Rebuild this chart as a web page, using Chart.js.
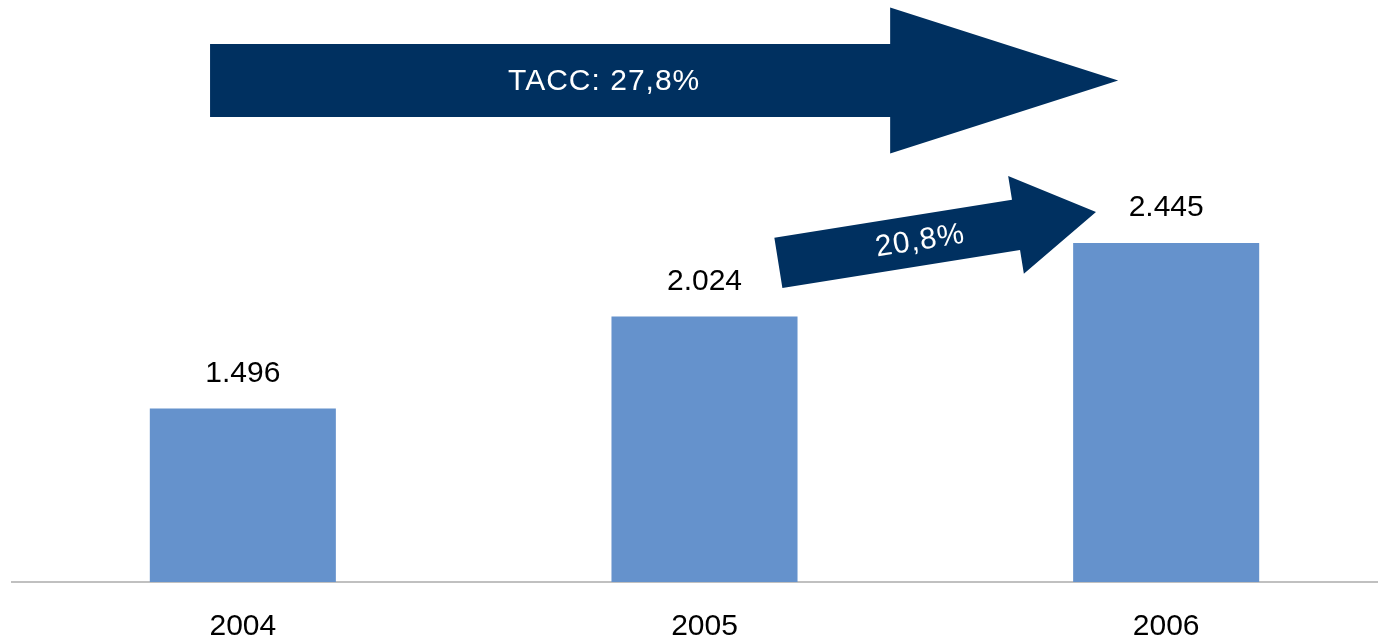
<!DOCTYPE html>
<html>
<head>
<meta charset="utf-8">
<script src="https://cdn.jsdelivr.net/npm/chart.js@4"></script>
<style>
  html, body { margin: 0; padding: 0; background: #fff; overflow: hidden; }
  #wrap { width: 1397px; height: 672px; position: relative; }
</style>
</head>
<body>
<div id="wrap"><canvas id="chart"></canvas></div>
<script>
// Data
const years = ['2004', '2005', '2006'];
const values = [1496, 2024, 2445];
const growthTotal = 'TACC: 27,8%';
const growthLast = '20,8%';

const barColor = '#6592CC';
const arrowColor = '#003060';
const textFont = '30px "Liberation Sans", Arial, sans-serif';

// Arrow annotations, placed in scale units (category index, value)
const arrows = [
  { from: { x: -0.071, y: 3378 }, to: { x: 1.896, y: 3378 }, shaft: 36.5, head: 73, headLen: 228,
    text: growthTotal, textAt: 0.434 },
  { from: { x: 1.160, y: 2331 }, to: { x: 1.848, y: 2623 }, shaft: 25.4, head: 49.6, headLen: 81,
    text: growthLast, textAt: 0.446 }
];

// Thousands separator with a dot
function fmt(v) {
  return v.toString().replace(/\B(?=(\d{3})+(?!\d))/g, '.');
}

// Draw arrows and value labels
const overlayPlugin = {
  id: 'overlay',
  afterDatasetsDraw(chart) {
    const ctx = chart.ctx;
    const xs = chart.scales.x;
    const ys = chart.scales.y;

    arrows.forEach(a => {
      const x0 = xs.getPixelForValue(a.from.x), y0 = ys.getPixelForValue(a.from.y);
      const x1 = xs.getPixelForValue(a.to.x), y1 = ys.getPixelForValue(a.to.y);
      const len = Math.hypot(x1 - x0, y1 - y0);
      const ang = Math.atan2(y1 - y0, x1 - x0);
      ctx.save();
      ctx.translate(x0, y0);
      ctx.rotate(ang);
      ctx.fillStyle = arrowColor;
      ctx.beginPath();
      ctx.moveTo(0, -a.shaft);
      ctx.lineTo(len - a.headLen, -a.shaft);
      ctx.lineTo(len - a.headLen, -a.head);
      ctx.lineTo(len, 0);
      ctx.lineTo(len - a.headLen, a.head);
      ctx.lineTo(len - a.headLen, a.shaft);
      ctx.lineTo(0, a.shaft);
      ctx.closePath();
      ctx.fill();
      ctx.fillStyle = '#ffffff';
      ctx.font = textFont;
      ctx.letterSpacing = '1px';
      ctx.textAlign = 'center';
      ctx.textBaseline = 'middle';
      ctx.fillText(a.text, len * a.textAt, 1);
      ctx.restore();
    });

    // Value labels above bars
    const meta = chart.getDatasetMeta(0);
    ctx.save();
    ctx.fillStyle = '#000000';
    ctx.font = '30px "Liberation Sans", Arial, sans-serif';
    ctx.textAlign = 'center';
    ctx.textBaseline = 'middle';
    meta.data.forEach((bar, i) => {
      ctx.fillText(fmt(values[i]), bar.x, bar.y - 35);
    });
    ctx.restore();
  }
};

new Chart(document.getElementById('chart'), {
  type: 'bar',
  data: {
    labels: years,
    datasets: [{
      data: values,
      backgroundColor: barColor,
      borderWidth: 0,
      categoryPercentage: 1,
      barPercentage: 0.403
    }]
  },
  options: {
    responsive: true,
    maintainAspectRatio: false,
    animation: false,
    layout: { padding: { left: 12, right: 0, top: 0, bottom: 0 } },
    plugins: {
      legend: { display: false },
      tooltip: { enabled: false }
    },
    scales: {
      x: {
        grid: { display: false, drawTicks: false },
        border: { display: true, color: '#c0c0c0', width: 2 },
        ticks: {
          color: '#000000',
          padding: 27,
          font: { family: '"Liberation Sans", Arial, sans-serif', size: 30 }
        }
      },
      y: {
        display: false,
        min: 500,
        max: 3840
      }
    }
  },
  plugins: [overlayPlugin]
});
</script>
</body>
</html>
